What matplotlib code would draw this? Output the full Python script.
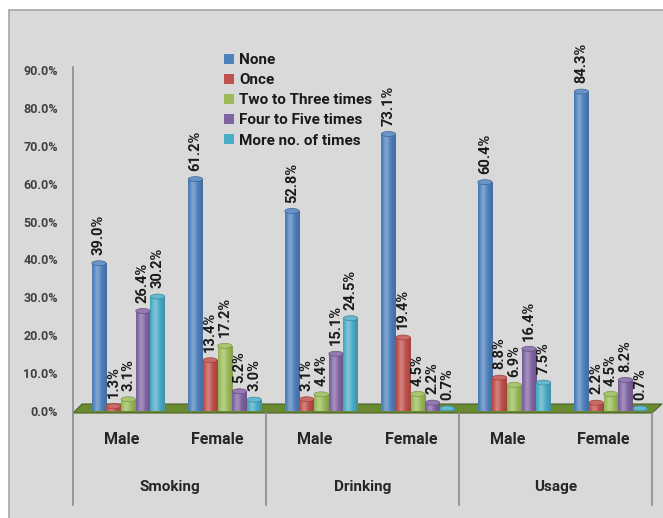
import matplotlib
matplotlib.use("Agg")
import matplotlib.pyplot as plt
import numpy as np
from matplotlib.patches import Rectangle, Polygon, Ellipse
from matplotlib.lines import Line2D
from matplotlib.colors import to_rgb

plt.rcParams['font.family'] = ['Roboto', 'DejaVu Sans']

groups = ["Smoking", "Drinking", "Usage"]
genders = ["Male", "Female"]
series = ["None", "Once", "Two to Three times", "Four to Five times", "More no. of times"]
none_vals = [39.0, 61.2, 52.8, 73.1, 60.4, 84.3]
once_vals = [1.3, 13.4, 3.1, 19.4, 8.8, 2.2]
two_three_vals = [3.1, 17.2, 4.4, 4.5, 6.9, 4.5]
four_five_vals = [26.4, 5.2, 15.1, 2.2, 16.4, 8.2]
more_vals = [30.2, 3.0, 24.5, 0.7, 7.5, 0.7]
colors = ["#4f81bd", "#c0504d", "#9bbb59", "#8064a2", "#4bacc6"]
all_vals = [none_vals, once_vals, two_three_vals, four_five_vals, more_vals]
yticks = [0, 10, 20, 30, 40, 50, 60, 70, 80, 90]

W, H = 663, 518
fig = plt.figure(figsize=(W / 100, H / 100), dpi=100)
fig.patch.set_facecolor("white")

def fx(x):
    return x / W

def fy(y):
    return 1 - y / H

# chart background
fig.patches.append(Rectangle((fx(9), fy(530)), fx(700), fy(10) - fy(530),
                             transform=fig.transFigure, facecolor="#d9d9d9",
                             edgecolor="#a6a6a6", linewidth=1.2, zorder=-10))

ax_l, ax_r, ax_t, ax_b = 73, 652, 70, 411
ax = fig.add_axes([fx(ax_l), fy(ax_b), (ax_r - ax_l) / W, (ax_b - ax_t) / H])
ax.set_facecolor("none")
for s in ax.spines.values():
    s.set_visible(False)

# floor
ax.add_patch(Polygon([(fx(73), fy(413)), (fx(652), fy(413)), (fx(662), fy(404)), (fx(82), fy(404))],
                     closed=True, transform=fig.transFigure, facecolor="#688a30",
                     edgecolor="#4f6228", linewidth=0.8, zorder=0.5, clip_on=False))

# y axis line
fig.lines.append(Line2D([fx(73), fx(73)], [fy(67), fy(505)], transform=fig.transFigure,
                        color="#8c8c8c", linewidth=1.2, zorder=5))

def shade(c, f):
    c = np.array(to_rgb(c))
    if f >= 0:
        return c + (1 - c) * f
    return c * (1 + f)

t = np.linspace(0, 1, 40)
profile = 0.28 * np.exp(-((t - 0.35) / 0.22) ** 2) - 0.35 * np.abs(t - 0.4) ** 1.6

offset = 0.073
step = 0.152
width = 0.148
n = len(none_vals)
ypx = (ax_b - ax_t) / 90.0
cap_h = 5.0 / ypx
for j, (name, vals) in enumerate(zip(series, all_vals)):
    xs = [i + offset + (j - 2) * step for i in range(n)]
    bars = ax.bar(xs, vals, width=width, color=colors[j], edgecolor="none",
                  linewidth=0, label=name, zorder=3)
    grad = np.array([[shade(colors[j], f) for f in profile]])
    for b, x, v in zip(bars, xs, vals):
        im = ax.imshow(grad, extent=[x - width / 2, x + width / 2, 0, v], aspect="auto",
                       zorder=3.1, interpolation="bilinear")
        im.set_clip_path(b)
        ax.add_patch(Ellipse((x, v), width, cap_h, facecolor=shade(colors[j], 0.15),
                             edgecolor=shade(colors[j], -0.2), linewidth=0.5, zorder=3.2))
        ax.annotate(f"{v:.1f}%", (x, v), xytext=(0, 6), textcoords="offset points",
                    rotation=90, ha="center", va="bottom", fontsize=10.5,
                    fontweight="bold", color="#1a1a1a", annotation_clip=False, zorder=4)

ax.set_xlim(-0.5, 5.5)
ax.set_ylim(0, 90)
ax.set_yticks(yticks)
ax.set_yticklabels([f"{v:.1f}%" for v in yticks], fontsize=9, fontweight="bold", color="#404040")
ax.tick_params(axis="y", length=0, pad=11)
ax.set_xticks([])

# category labels
tr = ax.get_xaxis_transform()
def ay(y):
    return (ax_b - y) / (ax_b - ax_t)

for i in range(n):
    ax.text(i, ay(440), genders[i % 2], transform=tr, ha="center", va="center",
            fontsize=11.5, fontweight="bold", color="#262626")
for g, name in enumerate(groups):
    ax.text(2 * g + 0.5, ay(487), name, transform=tr, ha="center", va="center",
            fontsize=11, fontweight="bold", color="#262626")
for xd in [1.5, 3.5, 5.5]:
    ax.plot([xd, xd], [ay(413), ay(505)], transform=tr, color="#8c8c8c",
            linewidth=1.2, clip_on=False)

leg = ax.legend(loc="upper left", bbox_to_anchor=(fx(218), fy(47)),
                bbox_transform=fig.transFigure, frameon=False, fontsize=11,
                handlelength=0.65, handleheight=0.65, handletextpad=0.35,
                labelspacing=0.4, borderaxespad=0)
for tx in leg.get_texts():
    tx.set_fontweight("bold")
    tx.set_color("#1a1a1a")
for h in leg.legend_handles:
    h.set_edgecolor("none")

fig.savefig("out.png", dpi=100)
